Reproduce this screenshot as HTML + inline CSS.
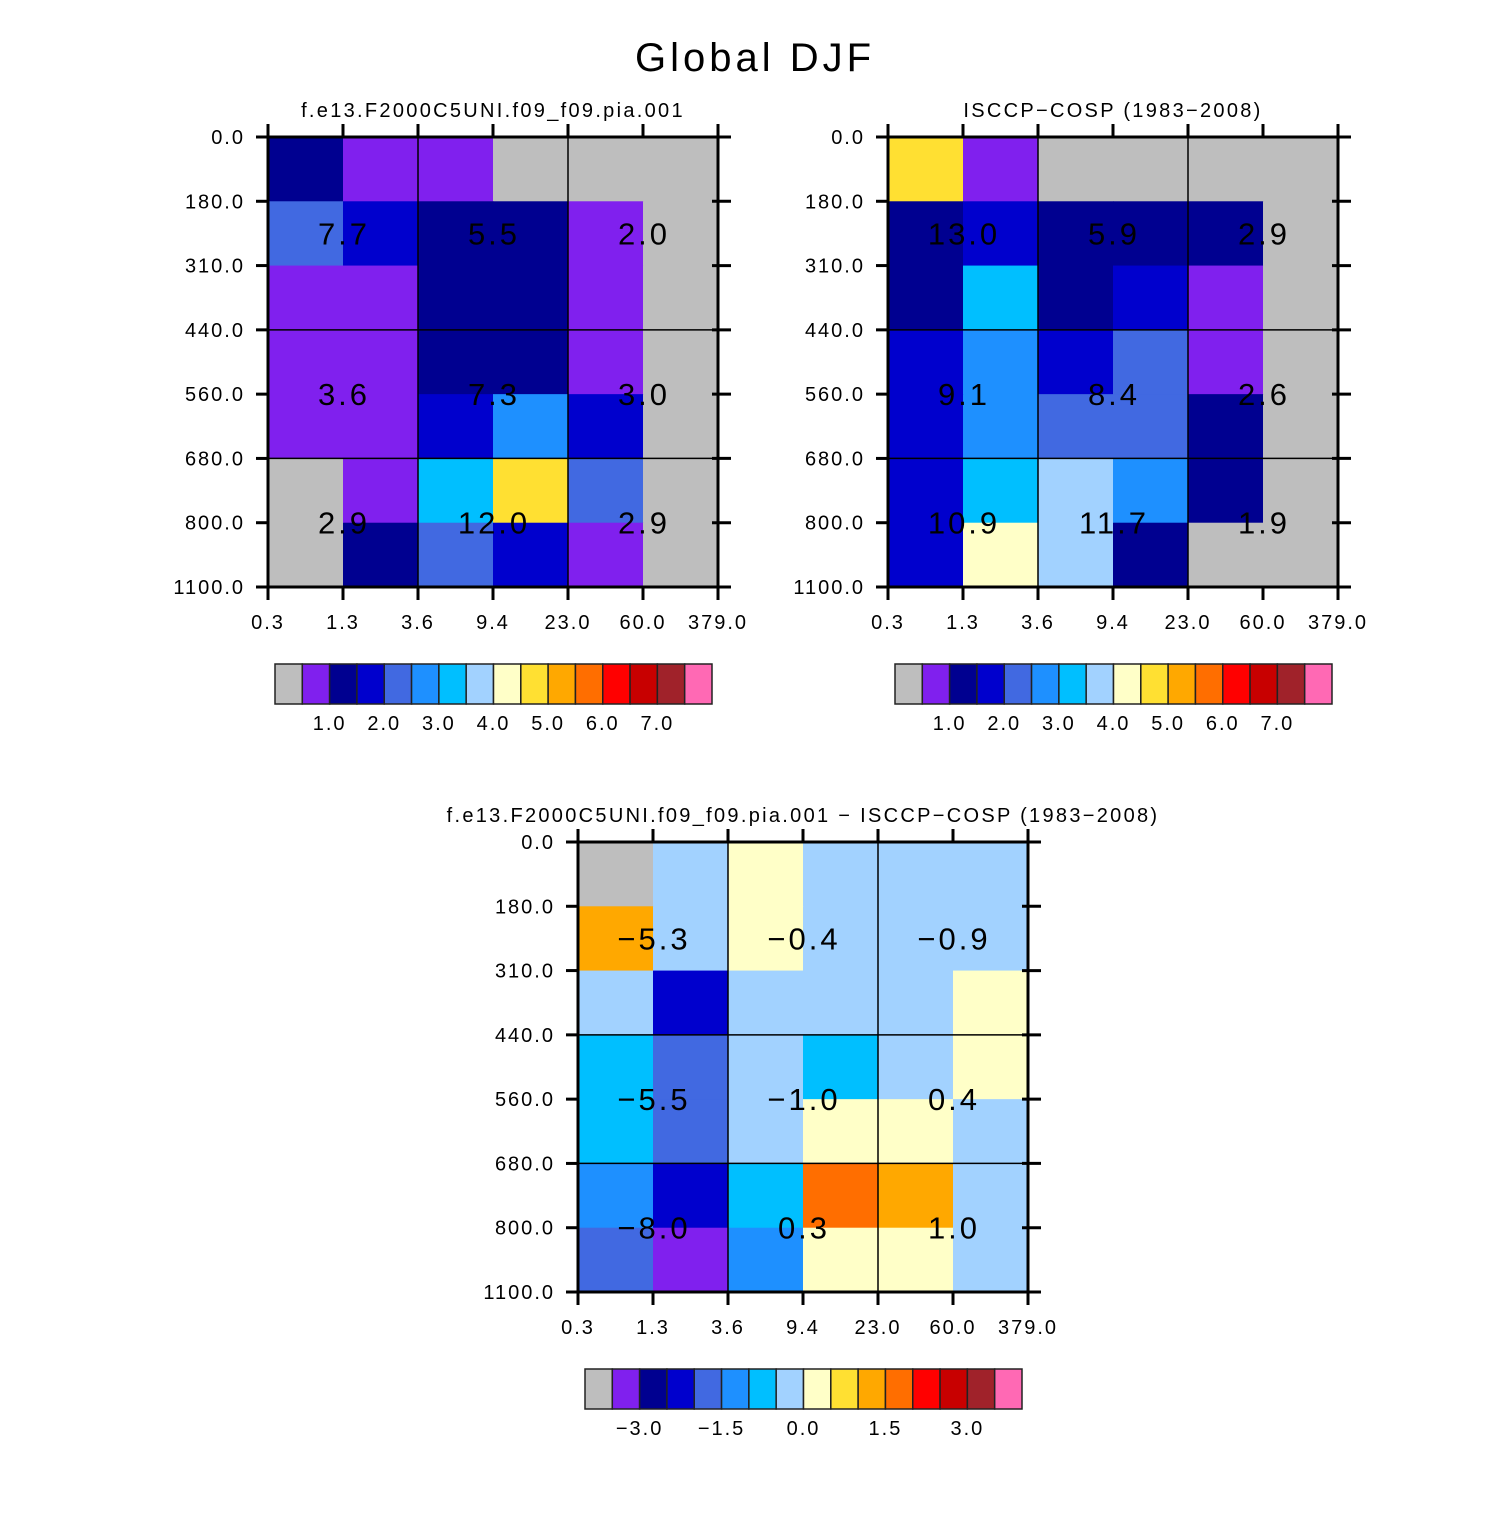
<!DOCTYPE html>
<html><head><meta charset="utf-8"><style>
body{margin:0;background:#fff}
svg text{font-family:"Liberation Sans",sans-serif;fill:#000}
</style></head><body>
<svg id="chart" width="1510" height="1510" viewBox="0 0 1510 1510" xmlns="http://www.w3.org/2000/svg">
<rect width="1510" height="1510" fill="#fff"/>
<text x="755" y="71" font-size="40" text-anchor="middle" letter-spacing="4">Global DJF</text>
</svg>
<script>
const palette = ["#BEBEBE","#8020EE","#000090","#0000CD","#4169E1","#1E90FF","#00BFFF","#A2D2FF","#FFFFC8","#FFE032","#FFA800","#FF6E00","#FF0000","#C80000","#A0222A","#FF69B4"];
const xTicks = ["0.3","1.3","3.6","9.4","23.0","60.0","379.0"];
const yTicks = ["0.0","180.0","310.0","440.0","560.0","680.0","800.0","1100.0"];
const grid1 = [
[2,1,1,0,0,0],[4,3,2,2,1,0],[1,1,2,2,1,0],[1,1,2,2,1,0],[1,1,3,5,3,0],[0,1,6,9,4,0],[0,2,4,3,1,0]];
const grid2 = [
[9,1,0,0,0,0],[2,3,2,2,2,0],[2,6,2,3,1,0],[3,5,3,4,1,0],[3,5,4,4,2,0],[3,6,7,5,2,0],[3,8,7,2,0,0]];
const grid3 = [
[0,7,8,7,7,7],[10,7,8,7,7,7],[7,3,7,7,7,8],[6,4,7,6,7,8],[6,4,7,8,8,7],[5,3,6,11,10,7],[4,1,5,8,8,7]];
const vals1 = [["7.7","5.5","2.0"],["3.6","7.3","3.0"],["2.9","12.0","2.9"]];
const vals2 = [["13.0","5.9","2.9"],["9.1","8.4","2.6"],["10.9","11.7","1.9"]];
const vals3 = [["\u22125.3","\u22120.4","\u22120.9"],["\u22125.5","\u22121.0","0.4"],["\u22128.0","0.3","1.0"]];
const cbLabels1 = ["1.0","2.0","3.0","4.0","5.0","6.0","7.0"];
const cbPos1 = [2,4,6,8,10,12,14];
const cbLabels3 = ["\u22123.0","\u22121.5","0.0","1.5","3.0"];
const cbPos3 = [2,5,8,11,14];

const svg = document.getElementById('chart');
const NS = "http://www.w3.org/2000/svg";
function mk(tag, attrs, parent){const e=document.createElementNS(NS,tag);for(const k in attrs)e.setAttribute(k,attrs[k]);(parent||svg).appendChild(e);return e;}

function panel(name, x0, y0, title, grid, vals, cbx, cby, cbLabels, cbPos){
  const W=450,H=450, nc=6, nr=7;
  const xs = i => x0 + i*W/nc;
  const ys = j => y0 + j*H/nr;
  const g = mk('g',{});
  
  
  const t = mk('text',{x:x0+W/2,y:y0-20,'font-size':20,'text-anchor':'middle','letter-spacing':2.3},g);
  t.textContent = title;
  
  
  grid.forEach((row,j)=>row.forEach((c,i)=>{
    const r = mk('rect',{x:xs(i),y:ys(j),width:W/nc+0.5,height:H/nr+0.5,fill:palette[c]},g);
    
    
  }));
  [2,4].forEach(i=>mk('line',{x1:xs(i),x2:xs(i),y1:y0,y2:y0+H,stroke:'#000','stroke-width':1.5},g));
  [3,5].forEach(j=>mk('line',{x1:x0,x2:x0+W,y1:ys(j),y2:ys(j),stroke:'#000','stroke-width':1.5},g));
  mk('rect',{x:x0,y:y0,width:W,height:H,fill:'none',stroke:'#000','stroke-width':3},g);
  xTicks.forEach((l,i)=>{
    mk('line',{x1:xs(i),x2:xs(i),y1:y0-13,y2:y0,stroke:'#000','stroke-width':3},g);
    mk('line',{x1:xs(i),x2:xs(i),y1:y0+H,y2:y0+H+13,stroke:'#000','stroke-width':3},g);
    const tx = mk('text',{x:xs(i),y:y0+H+42,'font-size':20,'text-anchor':'middle','letter-spacing':2},g);
    tx.textContent = l;
    
    
  });
  yTicks.forEach((l,j)=>{
    const y = j===0?y0:(j===nr?y0+H:ys(j));
    mk('line',{x1:x0-12,x2:x0,y1:y,y2:y,stroke:'#000','stroke-width':3},g);
    mk('line',{x1:x0+W-6,x2:x0+W+13,y1:y,y2:y,stroke:'#000','stroke-width':3},g);
    const ty = mk('text',{x:x0-23,y:y+7,'font-size':20,'text-anchor':'end','letter-spacing':2},g);
    ty.textContent = l;
    
    
  });
  const gr=[[0,3],[3,5],[5,7]];
  vals.forEach((row,j)=>row.forEach((v,i)=>{
    const cx = (xs(i*2)+xs(i*2+2))/2, cy=(ys(gr[j][0])+ys(gr[j][1]))/2;
    const tv = mk('text',{x:cx+1,y:cy+11,'font-size':31,'text-anchor':'middle','letter-spacing':3},g);
    tv.textContent = v;
    
    
  }));
  const bw = 437/16;
  palette.forEach((c,k)=>{
    const b = mk('rect',{x:cbx+k*bw,y:cby,width:bw,height:40,fill:c,stroke:'#222','stroke-width':1.5},g);
    
    
  });
  cbLabels.forEach((l,k)=>{
    const tl = mk('text',{x:cbx+cbPos[k]*bw,y:cby+66,'font-size':20,'text-anchor':'middle','letter-spacing':2},g);
    tl.textContent = l;
    
    
  });
}
panel('model-panel',268,137,'f.e13.F2000C5UNI.f09_f09.pia.001',grid1,vals1,275,664,cbLabels1,cbPos1);
panel('obs-panel',888,137,'ISCCP\u2212COSP (1983\u22122008)',grid2,vals2,895,664,cbLabels1,cbPos1);
panel('diff-panel',578,842,'f.e13.F2000C5UNI.f09_f09.pia.001 \u2212 ISCCP\u2212COSP (1983\u22122008)',grid3,vals3,585,1369,cbLabels3,cbPos3);
</script>
</body></html>
